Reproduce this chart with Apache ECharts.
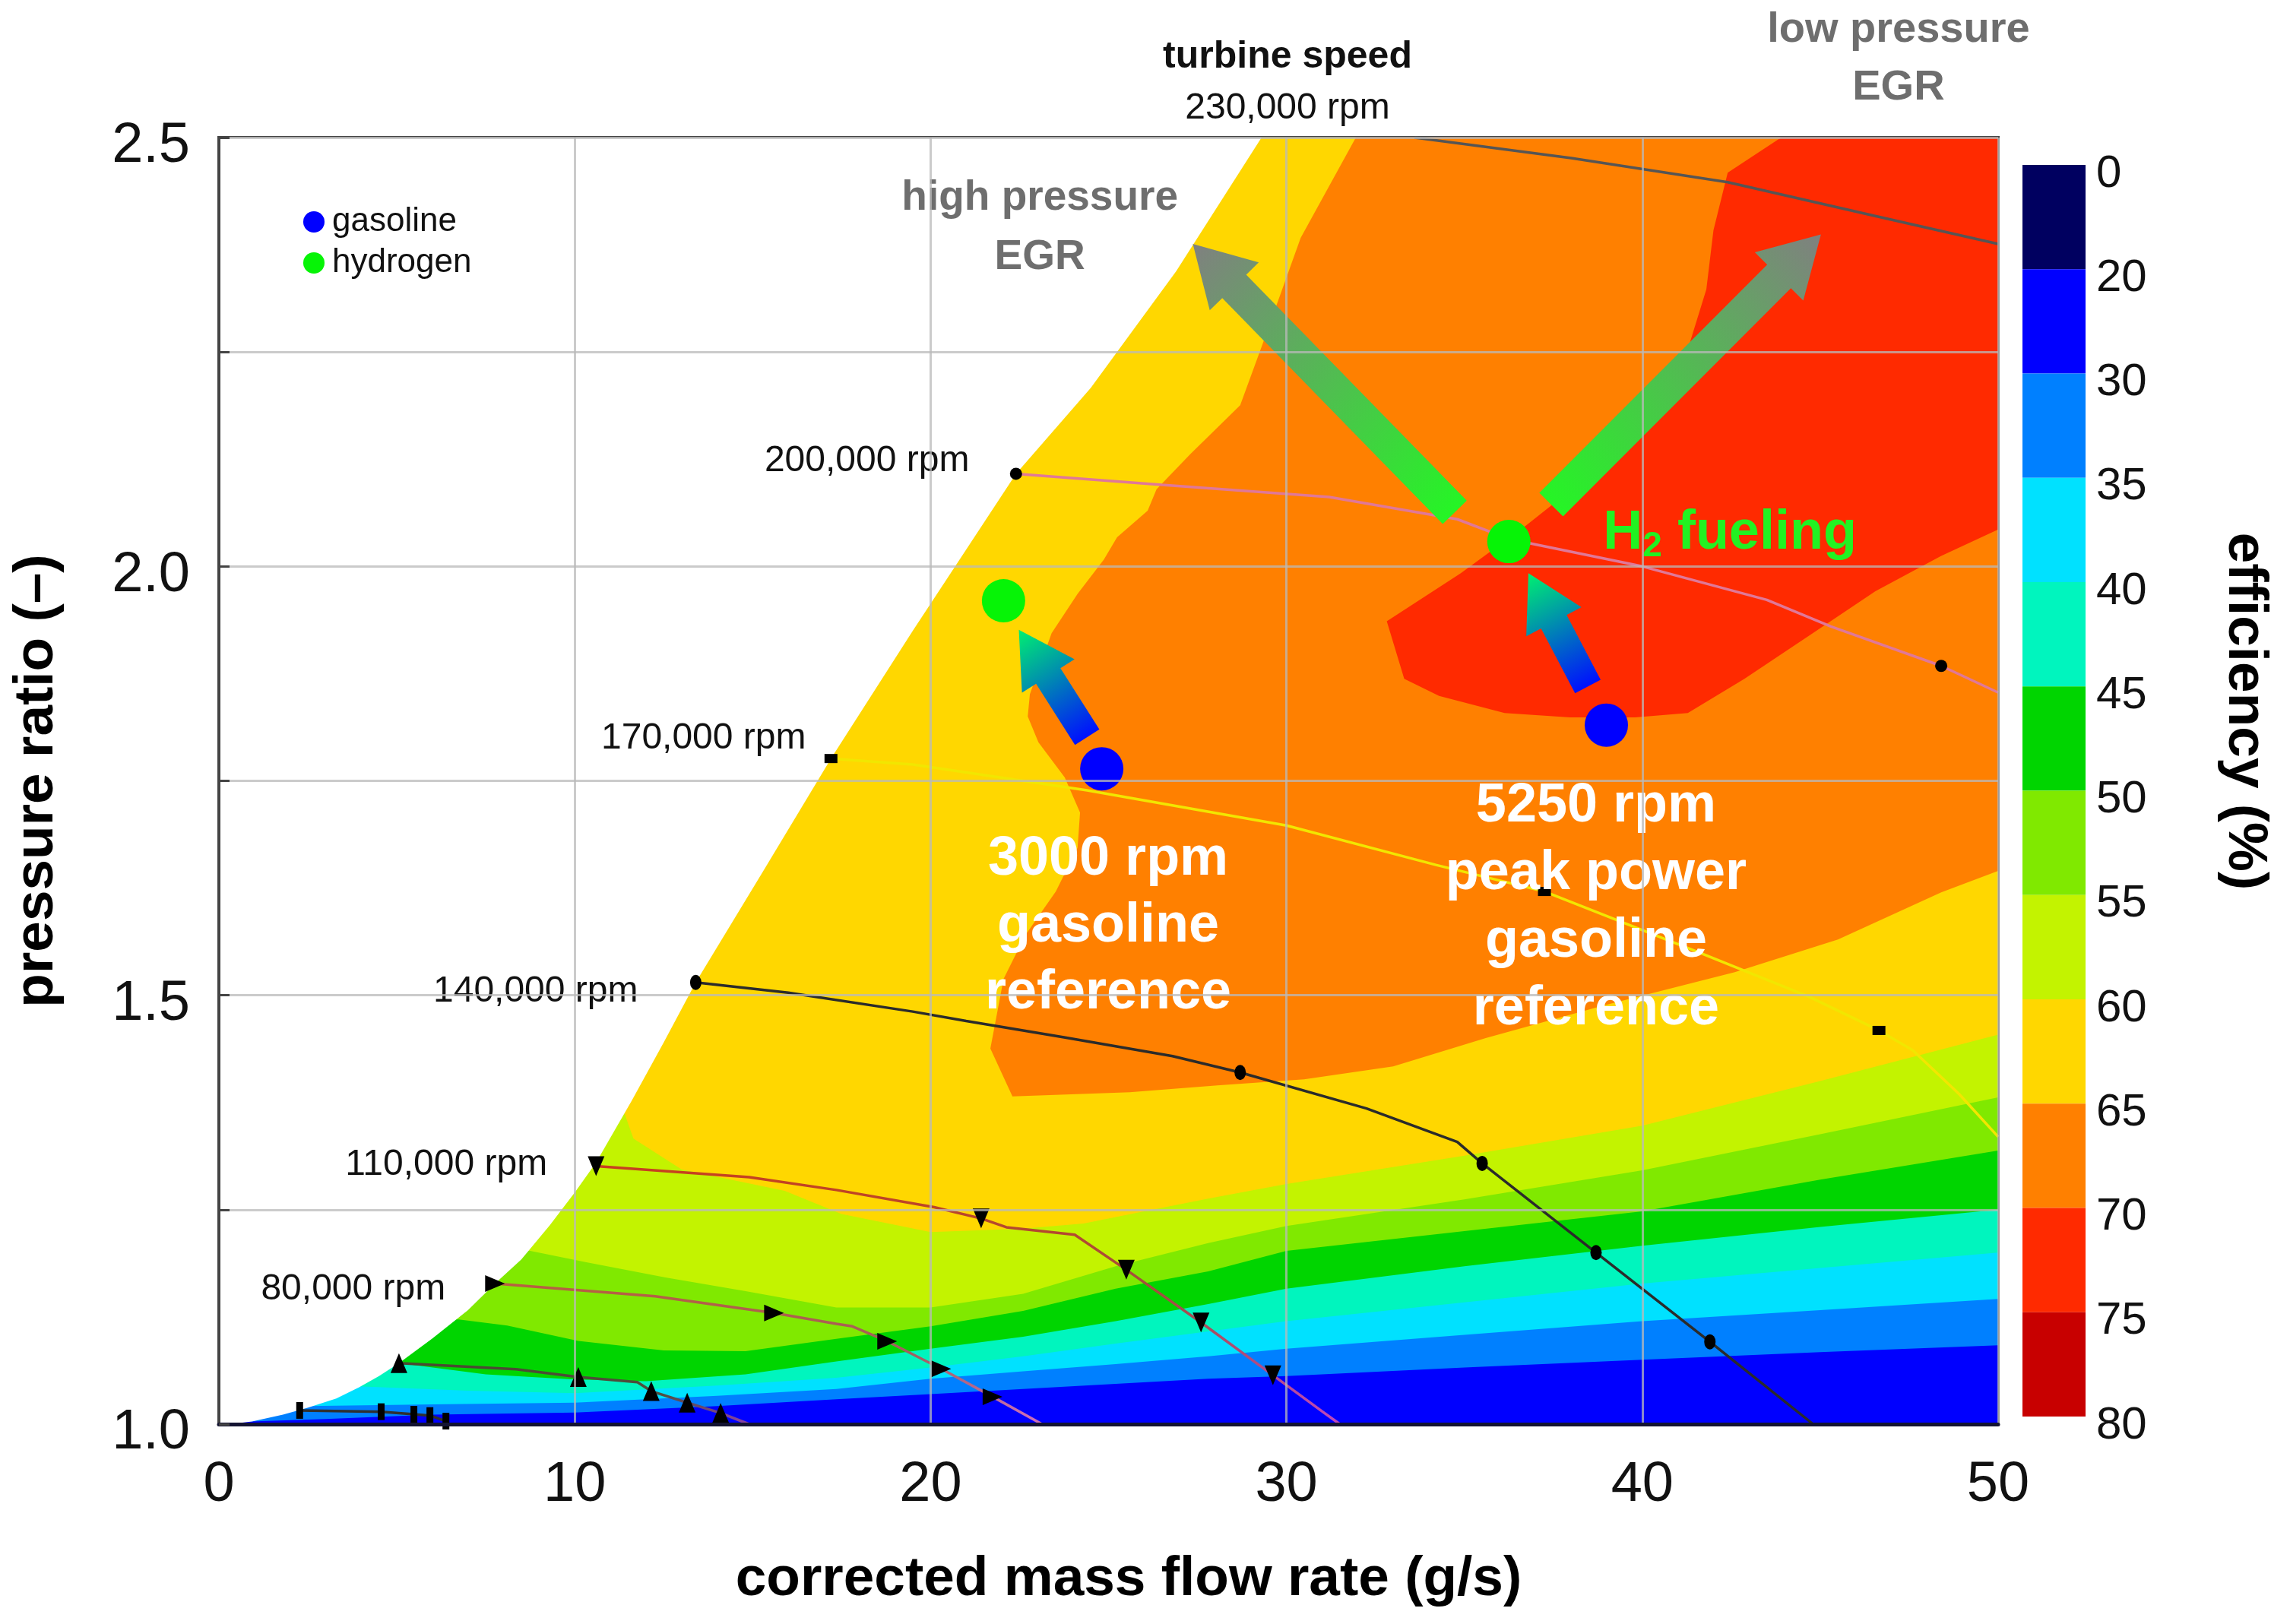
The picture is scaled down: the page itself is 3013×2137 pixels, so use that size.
<!DOCTYPE html>
<html>
<head>
<meta charset="utf-8">
<title>compressor map</title>
<script src="https://cdn.jsdelivr.net/npm/echarts@6/dist/echarts.min.js"></script>
<style>
  html, body { margin: 0; padding: 0; background: #fff; }
  #chart { width: 3013px; height: 2137px; }
</style>
</head>
<body>
<div id="chart"></div>
<script>
// colour bar: efficiency levels (%) and their colours
var levelLabels = [0, 20, 30, 35, 40, 45, 50, 55, 60, 65, 70, 75, 80];
var levelColors = ['#000060', '#0000ff', '#0080ff', '#00e1ff', '#00f5be', '#00d500',
  '#80e900', '#c3f300', '#ffd700', '#ff8000', '#ff2a00', '#c80000'];

// surge line = left edge of the map (mass flow g/s, pressure ratio)
var surgeLine = [[0.3, 1.0], [0.93, 1.003], [1.8, 1.011], [2.49, 1.019], [3.3, 1.03], [3.94, 1.043],
  [4.5, 1.056], [5.06, 1.071], [6.0, 1.1], [7.0, 1.133], [7.76, 1.164], [8.5, 1.192], [9.3, 1.232],
  [10.0, 1.27], [10.6, 1.305], [11.6, 1.377], [12.5, 1.445], [13.4, 1.515], [15.3, 1.645],
  [17.2, 1.776], [19.5, 1.925], [22.4, 2.108], [24.5, 2.208], [26.9, 2.344], [29.3, 2.5]];

// lower edge of each efficiency band
var band30 = [[0, 1.003], [0.9, 1.003], [3, 1.006], [6, 1.011], [10, 1.0135], [14, 1.021], [17.35, 1.029],
  [20, 1.035], [22.6, 1.041], [25.2, 1.047], [27.8, 1.053], [30, 1.056], [35, 1.066], [40, 1.075], [45, 1.084], [50, 1.092]];
var band35 = [[0, 1.021], [2.5, 1.021], [6, 1.023], [10, 1.025], [14, 1.033], [17.35, 1.041], [20, 1.053],
  [22.6, 1.0615], [25.2, 1.07], [27.8, 1.079], [30, 1.088], [35, 1.104], [40, 1.12], [45, 1.133], [50, 1.146]];
var band40 = [[0, 1.044], [3.9, 1.044], [7, 1.039], [10, 1.036], [14, 1.045], [17.35, 1.054], [20, 1.066],
  [22.6, 1.079], [25.2, 1.094], [27.8, 1.108], [30, 1.12], [35, 1.142], [40, 1.164], [45, 1.182], [50, 1.2]];
var band45 = [[0, 1.071], [5.06, 1.071], [7.5, 1.058], [10, 1.052], [12, 1.05], [14.8, 1.058], [17.35, 1.073],
  [20, 1.088], [22.6, 1.102], [25.2, 1.12], [27.8, 1.14], [30, 1.158], [35, 1.184], [40, 1.208], [45, 1.23], [50, 1.25]];
var band50 = [[0, 1.122], [6.74, 1.122], [8.1, 1.115], [10.1, 1.097], [12.5, 1.086], [14.8, 1.085], [17.35, 1.0995],
  [20, 1.114], [22.6, 1.132], [25.2, 1.158], [27.8, 1.178], [30, 1.202], [35, 1.225], [40, 1.248], [45, 1.285], [50, 1.319]];
var band55 = [[0, 1.202], [8.75, 1.202], [10.3, 1.189], [12.55, 1.171], [14.8, 1.155], [17.35, 1.136], [20, 1.136],
  [22.6, 1.152], [25.2, 1.184], [27.8, 1.211], [30, 1.231], [35, 1.262], [40, 1.296], [45, 1.338], [50, 1.381]];
var band60 = [[0, 1.362], [11.4, 1.362], [11.65, 1.333], [13, 1.297], [15.9, 1.272], [17.5, 1.245], [20, 1.224],
  [22.6, 1.228], [24.3, 1.234], [26, 1.248], [27.8, 1.263], [30, 1.28], [35, 1.313], [40, 1.348], [45, 1.4], [50, 1.454]];

// islands 65-70 % and 70-75 %
var island65 = [[31.95, 2.5], [30.4, 2.383], [29.3, 2.256], [28.7, 2.188], [27.3, 2.131], [26.35, 2.09],
  [26.1, 2.065], [25.24, 2.034], [24.87, 2.008], [24.13, 1.968], [23.4, 1.922], [22.79, 1.851], [22.73, 1.825],
  [23.03, 1.795], [23.77, 1.754], [24.2, 1.713], [24.13, 1.672], [23.52, 1.621], [22.66, 1.57], [22.05, 1.519],
  [21.68, 1.438], [22.3, 1.382], [25.6, 1.387], [28.06, 1.395], [30.5, 1.402], [33, 1.417], [35.6, 1.45],
  [38.9, 1.488], [42.6, 1.527], [45.5, 1.565], [48.4, 1.62], [50, 1.645], [50, 2.5]];
var island70 = [[43.9, 2.5], [42.4, 2.459], [42.0, 2.392], [41.8, 2.323], [41.3, 2.256], [40.4, 2.175],
  [38.6, 2.109], [36.74, 2.048], [34.9, 1.992], [32.82, 1.936], [33.31, 1.869], [34.29, 1.849], [36.13, 1.829],
  [37.97, 1.824], [39.8, 1.824], [41.28, 1.829], [42.87, 1.869], [44.71, 1.92], [46.55, 1.971], [48.39, 2.012],
  [50, 2.043], [50, 2.5]];

// turbine speed lines
var speed20 = [[2.27, 1.016], [4.56, 1.0145], [5.48, 1.0115], [5.93, 1.01], [6.38, 1.0035]];
var speed50 = [[5.06, 1.071], [8.35, 1.064], [10.1, 1.055], [11.76, 1.049], [12.15, 1.0385], [13.16, 1.025], [14.1, 1.013], [14.9, 1.0]];
var speed80 = [[7.76, 1.164], [12.26, 1.149], [15.6, 1.1296], [17.35, 1.117], [17.8, 1.114], [18.78, 1.0966],
  [20.3, 1.0645], [21.74, 1.032], [23.13, 1.0]];
var speed110 = [[10.6, 1.3007], [14.9, 1.288], [17.35, 1.273], [20.1, 1.253], [21.42, 1.2398], [22.13, 1.2295],
  [24.05, 1.2208], [25.5, 1.18], [27.6, 1.1185], [29.62, 1.057], [31.0, 1.015], [31.5, 1.0]];
var speed140 = [[13.4, 1.515], [16, 1.503], [19.5, 1.481], [21, 1.47], [23.75, 1.451], [26.8, 1.429], [28.7, 1.41],
  [32.25, 1.368], [34.8, 1.329], [35.5, 1.304], [38.7, 1.2], [41.9, 1.096], [44.8, 1.0]];
var speed170 = [[17.2, 1.776], [19.5, 1.769], [24.4, 1.739], [30, 1.698], [34.2, 1.652], [37.25, 1.621],
  [41.65, 1.549], [44.7, 1.498], [46.65, 1.459], [47.6, 1.436], [48.9, 1.385], [50, 1.335]];
var speed200 = [[22.4, 2.108], [26.5, 2.095], [31.2, 2.081], [34.8, 2.055], [36.25, 2.032], [40, 2.0],
  [43.5, 1.961], [45.3, 1.93], [48.4, 1.884], [50, 1.853]];
var speed230 = [[33.6, 2.5], [38, 2.476], [42.4, 2.448], [46.5, 2.409], [50, 2.376]];

// measured points on the speed lines
var marks20 = speed20;
var marks50 = [[5.06, 1.071], [10.1, 1.055], [12.15, 1.0385], [13.16, 1.025], [14.1, 1.013]];
var marks80 = [[7.76, 1.164], [15.6, 1.1296], [18.78, 1.0966], [20.3, 1.0645], [21.74, 1.032]];
var marks110 = [[10.6, 1.3007], [21.42, 1.2398], [25.5, 1.18], [27.6, 1.1185], [29.62, 1.057]];
var marks140 = [[13.4, 1.515], [28.7, 1.41], [35.5, 1.304], [38.7, 1.2], [41.9, 1.096]];
var marks170 = [[17.2, 1.776], [37.25, 1.621], [46.65, 1.459]];
var marks200 = [[22.4, 2.108], [48.4, 1.884]];

// operating points
var gasolinePts = [[24.81, 1.764], [38.99, 1.815]];
var hydrogenPts = [[22.05, 1.96], [36.25, 2.029]];

// arrows (tail -> tip)
var egrArrowFrom = [[34.73, 2.063], [37.44, 2.072]];
var egrArrowTo = [[27.37, 2.376], [45.02, 2.387]];
var fuelArrowFrom = [[24.4, 1.801], [38.47, 1.86]];
var fuelArrowTo = [[22.48, 1.926], [36.8, 1.992]];

// text
var speedLabels = ['80,000 rpm', '110,000 rpm', '140,000 rpm', '170,000 rpm', '200,000 rpm'];
var speedLabelAt = [[6.38, 1.157], [9.24, 1.302], [11.79, 1.504], [16.51, 1.799], [21.1, 2.1225]];

var font = "'Liberation Sans', Arial, Helvetica, sans-serif";
var chart = echarts.init(document.getElementById('chart'));

function above(edge) {
  return edge.concat([[50, 2.5], [0, 2.5]]);
}

var regions = [
  { poly: [[0, 1], [50, 1], [50, 2.5], [0, 2.5]], color: levelColors[1] },
  { poly: above(band30), color: levelColors[2] },
  { poly: above(band35), color: levelColors[3] },
  { poly: above(band40), color: levelColors[4] },
  { poly: above(band45), color: levelColors[5] },
  { poly: above(band50), color: levelColors[6] },
  { poly: above(band55), color: levelColors[7] },
  { poly: above(band60), color: levelColors[8] },
  { poly: island65, color: levelColors[9] },
  { poly: island70, color: levelColors[10] },
  { poly: surgeLine.concat([[0, 2.5], [0, 1]]), color: '#ffffff' }
];

function renderRegion(params, api) {
  var r = regions[params.dataIndex];
  var points = r.poly.map(function (p) { return api.coord(p); });
  return { type: 'polygon', shape: { points: points }, style: { fill: r.color } };
}

var arrows = [];
for (var i = 0; i < egrArrowFrom.length; i++) {
  arrows.push({ from: egrArrowFrom[i], to: egrArrowTo[i], shaft: 44, head: 78, headWidth: 90, c0: '#25f525', c1: '#808080' });
}
for (var j = 0; j < fuelArrowFrom.length; j++) {
  arrows.push({ from: fuelArrowFrom[j], to: fuelArrowTo[j], shaft: 38, head: 72, headWidth: 82, c0: '#0010ff', c1: '#00f070' });
}

function renderArrow(params, api) {
  var a = arrows[params.dataIndex];
  var p0 = api.coord(a.from), p1 = api.coord(a.to);
  var dx = p1[0] - p0[0], dy = p1[1] - p0[1];
  var len = Math.sqrt(dx * dx + dy * dy);
  var ux = dx / len, uy = dy / len, nx = -uy, ny = ux;
  var hb = [p1[0] - ux * a.head, p1[1] - uy * a.head];
  var sw = a.shaft / 2, hw = a.headWidth / 2;
  var pts = [
    [p0[0] + nx * sw, p0[1] + ny * sw],
    [hb[0] + nx * sw, hb[1] + ny * sw],
    [hb[0] + nx * hw, hb[1] + ny * hw],
    p1,
    [hb[0] - nx * hw, hb[1] - ny * hw],
    [hb[0] - nx * sw, hb[1] - ny * sw],
    [p0[0] - nx * sw, p0[1] - ny * sw]
  ];
  return {
    type: 'polygon',
    shape: { points: pts },
    style: {
      fill: new echarts.graphic.LinearGradient(p0[0], p0[1], p1[0], p1[1],
        [{ offset: 0, color: a.c0 }, { offset: 1, color: a.c1 }], true)
    }
  };
}

function renderLevel(params, api) {
  var i = params.dataIndex;
  var a = api.coord([0, i]), b = api.coord([1, i + 1]);
  return {
    type: 'rect',
    shape: { x: Math.min(a[0], b[0]), y: Math.min(a[1], b[1]), width: Math.abs(b[0] - a[0]), height: Math.abs(b[1] - a[1]) },
    style: { fill: levelColors[i] }
  };
}

function speedLine(data, color) {
  return {
    type: 'line', data: data, showSymbol: false, silent: true, z: 3, clip: true,
    lineStyle: { color: color, width: 3.5, opacity: 1 }
  };
}

function marks(data, symbol, size, rotate) {
  return {
    type: 'scatter', data: data, symbol: symbol, symbolSize: size, symbolRotate: rotate || 0,
    silent: true, clip: false, z: 4, itemStyle: { color: '#000', opacity: 1 }
  };
}

function grad(stops) {
  return { type: 'linear', x: 0, y: 0, x2: 0, y2: 1, colorStops: stops.map(function (c, k) {
    return { offset: k / (stops.length - 1), color: c };
  }) };
}

var notes = [];
for (var k = 0; k < speedLabels.length; k++) {
  notes.push({ value: speedLabelAt[k], label: { formatter: speedLabels[k], position: 'left', distance: 0, fontSize: 48 } });
}
notes.push({ value: [30.03, 2.594], label: { formatter: 'turbine speed', fontSize: 50, fontWeight: 'bold' } });
notes.push({ value: [30.03, 2.534], label: { formatter: '230,000 rpm', fontSize: 48 } });
notes.push({ value: [47.2, 2.592], label: { formatter: 'low pressure\nEGR', fontSize: 56, fontWeight: 'bold', color: '#6e6e6e', lineHeight: 76 } });
notes.push({ value: [23.07, 2.395], label: { formatter: 'high pressure\nEGR', fontSize: 55, fontWeight: 'bold', color: '#6e6e6e', lineHeight: 78 } });
notes.push({ value: [24.99, 1.58], label: { formatter: '3000 rpm\ngasoline\nreference', fontSize: 72, fontWeight: 'bold', color: '#ffffff', lineHeight: 88 } });
notes.push({ value: [38.7, 1.602], label: { formatter: '5250 rpm\npeak power\ngasoline\nreference', fontSize: 72, fontWeight: 'bold', color: '#ffffff', lineHeight: 89 } });
notes.push({ value: [38.89, 2.035], label: {
  formatter: '{h|H}{s|2}{h| fueling}', position: 'right', distance: 0,
  rich: {
    h: { fontSize: 72, fontWeight: 'bold', color: '#22f222', lineHeight: 80, padding: [0, 0, 14, 0], verticalAlign: 'top', fontFamily: font },
    s: { fontSize: 46, fontWeight: 'bold', color: '#22f222', lineHeight: 46, padding: [0, 0, 4, 0], verticalAlign: 'bottom', fontFamily: font }
  }
} });

var option = {
  animation: false,
  backgroundColor: '#ffffff',
  textStyle: { fontFamily: font },
  grid: [
    { left: 288, top: 181, width: 2341, height: 1693, show: true, borderColor: '#444', borderWidth: 4, outerBoundsMode: 'none' },
    { left: 2661, top: 217, width: 83, height: 1647, outerBoundsMode: 'none' }
  ],
  legend: {
    data: ['gasoline', 'hydrogen'], orient: 'vertical', left: 394, top: 265,
    icon: 'circle', itemWidth: 28, itemHeight: 28, itemGap: 10,
    itemStyle: { opacity: 1 },
    textStyle: { fontSize: 44, color: '#111', fontFamily: font, padding: [0, 0, 0, 5] }
  },
  xAxis: [
    {
      type: 'value', min: 0, max: 50, interval: 10, z: 10,
      name: 'corrected mass flow rate (g/s)', nameLocation: 'middle', nameGap: 168,
      nameTextStyle: { fontSize: 73, fontWeight: 'bold', color: '#000', fontFamily: font, padding: [0, 0, 0, 53] },
      axisLine: { show: true, lineStyle: { color: '#141432', width: 5 } },
      axisTick: { show: false },
      axisLabel: { fontSize: 74, color: '#111', margin: 44, fontFamily: font },
      splitLine: { show: true, lineStyle: { color: 'rgba(185,185,185,0.75)', width: 3 } }
    },
    { gridIndex: 1, type: 'value', min: 0, max: 1, show: false }
  ],
  yAxis: [
    {
      type: 'value', min: 1.0, max: 2.5, interval: 0.25, z: 10,
      name: 'pressure ratio (–)', nameLocation: 'middle', nameGap: 203,
      nameTextStyle: { fontSize: 73, fontWeight: 'bold', color: '#000', fontFamily: font },
      axisLine: { show: true, lineStyle: { color: '#444', width: 4 } },
      axisTick: { show: true, inside: true, length: 14, lineStyle: { color: '#444', width: 3 } },
      axisLabel: {
        fontSize: 74, color: '#111', margin: 38, fontFamily: font, verticalAlign: 'top', lineHeight: 24,
        formatter: function (v) {
          return Math.abs(v * 2 - Math.round(v * 2)) < 1e-6 ? v.toFixed(1) : '';
        }
      },
      splitLine: { show: true, lineStyle: { color: 'rgba(185,185,185,0.75)', width: 3 } }
    },
    {
      gridIndex: 1, type: 'value', min: 0, max: 12, interval: 1, inverse: true, position: 'right',
      axisLine: { show: false }, axisTick: { show: false }, splitLine: { show: false },
      axisLabel: {
        fontSize: 60, color: '#111', margin: 14, fontFamily: font, verticalAlign: 'top', lineHeight: 24,
        formatter: function (v) { return String(levelLabels[v]); }
      }
    }
  ],
  graphic: [
    {
      type: 'text', x: 2953, y: 936, rotation: -Math.PI / 2,
      style: { text: 'efficiency (%)', font: 'bold 73px ' + font, fill: '#000', textAlign: 'center', textVerticalAlign: 'middle' }
    }
  ],
  series: [
    {
      type: 'custom', name: 'map', renderItem: renderRegion, clip: true, silent: true, z: 1,
      data: regions.map(function (r, n) { return [n, 1]; })
    },
    speedLine(speed20, '#303030'),
    speedLine(speed50, grad(['#4a4a30', '#505040', '#9040b0'])),
    speedLine(speed80, grad(['#b86040', '#a06060', '#d070c0'])),
    speedLine(speed110, grad(['#c8401e', '#a05040', '#c048c0'])),
    speedLine(speed140, '#2b2b2b'),
    speedLine(speed170, '#f2e600'),
    speedLine(speed200, '#e07898'),
    speedLine(speed230, '#555555'),
    marks(marks20, 'rect', [9, 22]),
    marks(marks50, 'triangle', [22, 26]),
    marks(marks80, 'triangle', [22, 26], -90),
    marks(marks110, 'triangle', [22, 26], 180),
    marks(marks140, 'circle', [15, 20]),
    marks(marks170, 'rect', [17, 12]),
    marks(marks200, 'circle', 16),
    {
      type: 'custom', name: 'arrows', renderItem: renderArrow, clip: false, silent: true, z: 5,
      data: arrows.map(function (a, n) { return [n, 1]; })
    },
    { type: 'scatter', name: 'gasoline', data: gasolinePts, symbolSize: 57, itemStyle: { color: '#0000ff', opacity: 1 }, z: 6 },
    { type: 'scatter', name: 'hydrogen', data: hydrogenPts, symbolSize: 57, itemStyle: { color: '#06f406', opacity: 1 }, z: 6 },
    {
      type: 'scatter', name: 'notes', data: notes, symbolSize: 1, clip: false, silent: true, z: 7,
      itemStyle: { color: 'rgba(0,0,0,0)', opacity: 1 },
      label: { show: true, position: 'inside', color: '#111', fontFamily: font }
    },
    {
      type: 'custom', name: 'colorbar', xAxisIndex: 1, yAxisIndex: 1, renderItem: renderLevel, silent: true,
      data: levelColors.map(function (c, n) { return [0.5, n]; })
    }
  ]
};

chart.setOption(option);
</script>
</body>
</html>
